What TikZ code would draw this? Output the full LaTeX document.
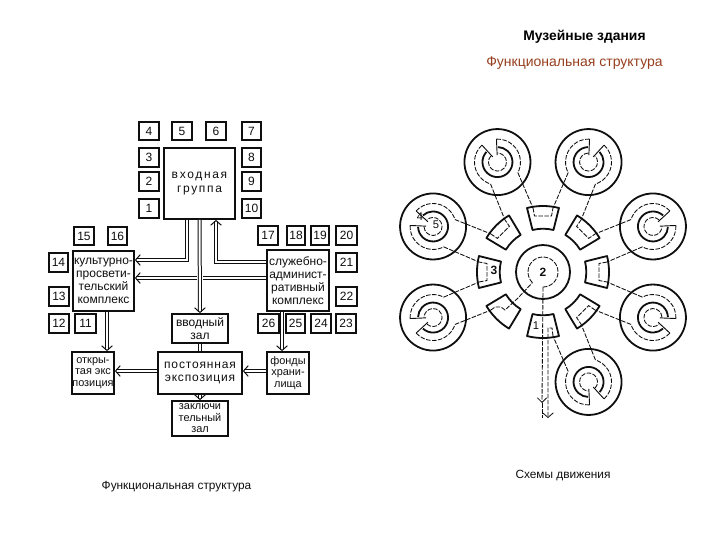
\documentclass[tikz,border=0pt]{standalone}
\usepackage{fontspec}
\setmainfont{Liberation Sans}
\usetikzlibrary{arrows.meta,calc}
\definecolor{subt}{RGB}{150,62,30}
\definecolor{ink}{RGB}{15,15,15}
\tikzset{
  bxs/.style={draw=ink,line width=1.35pt,inner sep=0pt,align=center,text=ink,font=\fontsize{9}{9.8}\selectfont},
  tight/.style={font=\fontsize{8.2}{8.6}\selectfont},
  dbl/.style={draw=ink,double=white,line width=.75pt,double distance=1.5pt},
  tip/.style={-{Straight Barb[length=3.5pt,width=8pt,line width=.75pt]}},
  halo/.style={draw=white,line width=4.5pt},
  ring/.style={draw=ink,line width=1.35pt},
  wall/.style={draw=ink,line width=.7pt},
  route/.style={draw=ink,line width=.65pt,dash pattern=on 3.4pt off 1.1pt},
  lbl/.style={text=ink,inner sep=0pt,font=\fontsize{8.4}{9}\selectfont},
  capt/.style={text=ink,inner sep=0pt,font=\fontsize{8.9}{10}\selectfont},
}
\newcommand{\bx}[7][]{\node[bxs,#1,minimum width={(#5-#3)*0.75pt},minimum height={(#6-#4)*0.75pt}] (#2) at ({(#3+#5)/2},{(#4+#6)/2}) {#7};}
\newcommand{\spc}{\addfontfeature{LetterSpace=14}}
\newcommand{\spd}{\addfontfeature{LetterSpace=7}}
\begin{document}
\begin{tikzpicture}[x=.75pt,y=-.75pt]
\useasboundingbox (0,0) rectangle (720,540);
% titles
\node[inner sep=0pt,font=\fontsize{10.4}{11}\bfseries\selectfont] (title) at (584.5,36.5) {Музейные здания};
\node[inner sep=0pt,text=subt,font=\fontsize{10.5}{11}\selectfont] (sub) at (574.5,63.5) {Функциональная структура};
\node[capt] (c1) at (176.5,486.5) {Функциональная структура};
\node[capt] (c2) at (563,475.5) {Схемы движения};
% small rooms
\bx{n4}{139}{122}{159}{140}{4}
\bx{n5}{172}{122}{192}{140}{5}
\bx{n6}{206}{122}{226}{140}{6}
\bx{n7}{242}{122}{261}{140}{7}
\bx{n3}{139}{148}{159}{167}{3}
\bx{n2}{139}{172}{159}{191}{2}
\bx{n1}{139}{199}{159}{218}{1}
\bx{n8}{242}{148}{261}{167}{8}
\bx{n9}{242}{172}{261}{191}{9}
\bx{n10}{242}{199}{261}{218}{10}
\bx{n15}{74}{227}{94}{245}{15}
\bx{n16}{108}{227}{127}{245}{16}
\bx{n17}{258}{226}{278}{245}{17}
\bx{n18}{287}{226}{305}{245}{18}
\bx{n19}{311}{226}{329}{245}{19}
\bx{n20}{336}{226}{357}{245}{20}
\bx{n14}{49}{253}{68}{272}{14}
\bx{n21}{336}{253}{357}{272}{21}
\bx{n13}{49}{287}{69}{306}{13}
\bx{n22}{336}{287}{357}{306}{22}
\bx{n12}{49}{314}{69}{333}{12}
\bx{n11}{75}{314}{96}{333}{11}
\bx{n26}{258}{314}{279}{333}{26}
\bx{n25}{286}{314}{305}{333}{25}
\bx{n24}{311}{314}{331}{333}{24}
\bx{n23}{336}{314}{356}{333}{23}
% main blocks
\bx{vhod}{164}{148}{235}{219}{{\spc входная}\\{\spc группа}}
\bx{kult}{73}{251}{134}{311}{культурно-\\просвети-\\тельский\\комплекс}
\bx{sluzh}{267}{250}{329}{311}{служебно-\\админист-\\ративный\\комплекс}
\bx{vvod}{172}{314}{228}{343}{вводный\\зал}
\bx[tight]{otkr}{72}{352}{114}{394}{откры-\\тая экс\\позиция}
\bx{post}{158}{352}{242}{394}{{\spd постоянная}\\{\spd экспозиция}}
\bx[tight]{fond}{267}{352}{309}{394}{фонды\\храни-\\лища}
\bx[tight]{zakl}{172}{401}{228}{436}{заключи\\тельный\\зал}
% connectors
\draw[dbl,tip] (187,0 |- vhod.south) |- (kult.east |- 0,260);
\draw[dbl,tip] (sluzh.west |- 0,262) -| (216,0 |- vhod.south);
\draw[dbl,tip] (sluzh.west |- 0,278) -- (kult.east |- 0,278);
\draw[halo] (200,268) -- (200,288);
\draw[dbl,tip] (vhod.south) -- (vvod.north);
\draw[dbl,tip] (107,0 |- kult.south) -- (107,0 |- otkr.north);
\draw[dbl,tip] (282,0 |- sluzh.south) -- (282,0 |- fond.north);
\draw[dbl] (vvod.south) -- (post.north);
\draw[dbl,tip] (post.west |- 0,371) -- (otkr.east |- 0,371);
\draw[dbl,tip] (fond.west |- 0,371) -- (post.east |- 0,371);
\draw[dbl,tip] (post.south) -- (zakl.north);
% radial scheme
\begin{scope}[shift={(543,272)},y=.75pt]
  \draw[ring] (0,0) circle (27);
  \draw[route] (225:15) arc (225:-90:15);
  \foreach \i in {0,...,7}{
    \begin{scope}[rotate={45*\i}]
      \draw[ring,line join=round] (-14:66) arc (-14:14:66) -- (14:43.3) arc (14:-14:43.3) -- cycle;
      \coordinate (vp\i) at (64,10);
      \coordinate (vm\i) at (64,-10);
      \ifnum\i=5\relax\else\ifnum\i=6\relax\else
        \draw[route] (64,10) -- (56,8.5) -- (56,-8.5) -- (64,-10);
      \fi\fi
    \end{scope}
  }
  \foreach \i/\j in {0/1,1/2,2/3,3/4,4/5,6/7,7/0}{
    \begin{scope}[shift={({22.5+45*\i}:119)},rotate={22.5+45*\i}]
      \draw[ring] (0,0) circle (33);
      \draw[wall] (20:7) -- (20:23) (-20:7) -- (-20:23);
      \draw[ring] (25:15) arc (25:335:15);
      \draw[route] (25:9) arc (25:335:9);
      \draw[route] (20:23) arc (20:140:23) coordinate (ep\i);
      \draw[route] (-20:23) arc (-20:-140:23) coordinate (em\i);
    \end{scope}
    \draw[route] (ep\i) -- (vm\j);
    \draw[route] (em\i) -- (vp\i);
  }
  % vestibule 225 link to the central hall
  \draw[route] (vm5) -- (-48,-35) -- (-42,-35) -- (-38,-38) -- (-25,-26) -- (225:15);
  % entrance / exit
  \coordinate (ex1) at (-1,-146);
  \coordinate (ex2) at (5,-146);
  \draw[route,-{Straight Barb[length=3.5pt,width=7pt,line width=.6pt]}] (0,-15) -- (-1,-131);
  \draw[route] (-1,-131) -- (ex1);
  \draw[route,-{Straight Barb[length=3.5pt,width=8pt,line width=.6pt]}] (vp6) -- (9,-56) -- (5,-56) -- (ex2);
  \node[lbl] (r1) at (-7,-54) {1};
  \node[lbl,font=\fontsize{9}{9}\bfseries\selectfont] (r2) at (0,0) {2};
  \node[lbl,font=\fontsize{9}{9}\bfseries\selectfont] (r3) at (-49,2) {3};
  \node[lbl] (r4) at (-123,55) {4};
  \node[lbl] (r5) at (-107,47) {5};
\end{scope}
\end{tikzpicture}
\end{document}
